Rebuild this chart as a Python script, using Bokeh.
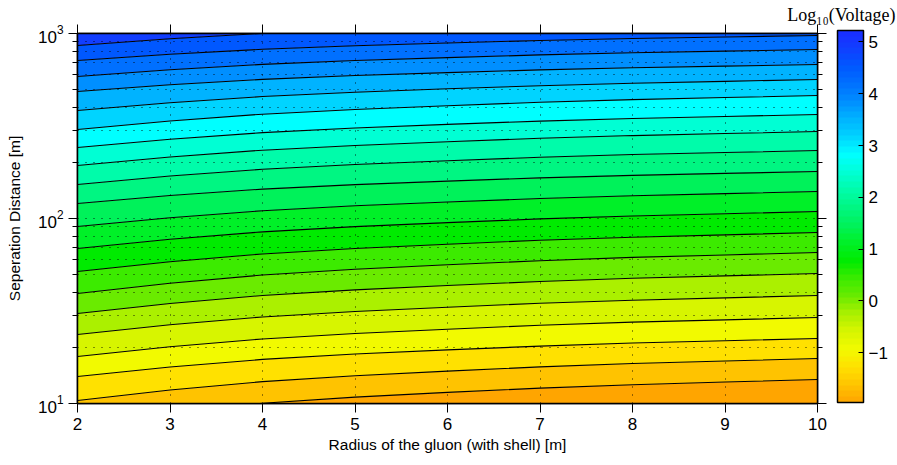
import numpy as np
from bokeh.plotting import figure
from bokeh.models import (Range1d, FixedTicker, LinearAxis, LogAxis, ColorBar,
                          LinearColorMapper, LogTickFormatter)
from bokeh.embed import file_html
from bokeh.resources import INLINE

# ---------------- data ----------------
radius = [2, 3, 4, 5, 6, 7, 8, 9, 10]            # x grid of the contour lines [m]
x_ticks = [2, 3, 4, 5, 6, 7, 8, 9, 10]
y_ticks = [10, 100, 1000]
y_minor = [20, 30, 40, 50, 60, 70, 80, 90, 200, 300, 400, 500, 600, 700, 800, 900]
cbar_ticks = [-1, 0, 1, 2, 3, 4, 5]
cbar_labels = {-1: "\u22121", 0: "0", 1: "1", 2: "2", 3: "3", 4: "4", 5: "5"}
z_min, z_max = -1.96, 5.22                        # Log10(Voltage) colour range

# contour levels, Log10(Voltage)
levels = [-1.62, -1.28, -0.93, -0.59, -0.25, 0.09, 0.43, 0.77, 1.12, 1.46,
          1.80, 2.14, 2.48, 2.82, 3.17, 3.51, 3.85, 4.19, 4.53, 4.88]

# separation distance [m] of each contour line at radius = 2..10
c00 = [7.89, 9.02, 10.04, 10.83, 11.48, 12.11, 12.64, 13.06, 13.48]
c01 = [10.38, 11.83, 13.13, 14.13, 14.97, 15.77, 16.44, 16.97, 17.51]
c02 = [14.0, 15.75, 17.31, 18.5, 19.49, 20.43, 21.22, 21.83, 22.46]
c03 = [17.95, 20.27, 22.33, 23.9, 25.21, 26.47, 27.52, 28.33, 29.17]
c04 = [23.6, 26.65, 29.37, 31.43, 33.15, 34.8, 36.18, 37.25, 38.35]
c05 = [30.66, 34.72, 38.35, 41.12, 43.43, 45.65, 47.51, 48.95, 50.43]
c06 = [39.32, 44.67, 49.47, 53.13, 56.2, 59.14, 61.61, 63.52, 65.5]
c07 = [51.7, 58.37, 64.33, 68.85, 72.62, 76.24, 79.26, 81.6, 84.01]
c08 = [68.84, 77.24, 84.69, 90.33, 95.03, 99.5, 103.2, 106.1, 109.1]
c09 = [90.52, 100.9, 110.1, 117.1, 122.8, 128.3, 132.8, 136.3, 140.0]
c10 = [120.5, 133.1, 144.2, 152.5, 159.3, 165.8, 171.1, 175.3, 179.5]
c11 = [152.7, 169.7, 184.7, 196.0, 205.3, 214.2, 221.6, 227.3, 233.1]
c12 = [193.4, 215.0, 234.0, 248.3, 260.1, 271.3, 280.7, 287.9, 295.3]
c13 = [242.0, 268.2, 291.1, 308.3, 322.6, 336.1, 347.3, 356.0, 364.9]
c14 = [302.8, 336.5, 366.3, 388.6, 407.1, 424.7, 439.3, 450.7, 462.2]
c15 = [383.5, 422.4, 456.2, 481.6, 502.4, 522.2, 538.6, 551.2, 564.1]
c16 = [485.8, 528.4, 565.2, 592.4, 614.7, 635.7, 653.0, 666.3, 679.9]
c17 = [585.6, 636.9, 681.2, 714.0, 740.9, 766.2, 787.1, 803.1, 819.4]
c18 = [714.6, 772.4, 822.0, 858.6, 888.5, 916.6, 939.7, 957.4, 975.4]
c19 = [861.3, 936.7, 1001.9, 1050.1, 1089.7, 1126.9, 1157.6, 1181.2, 1205.3]
contour_lines = [c00, c01, c02, c03, c04, c05, c06, c07, c08, c09,
                 c10, c11, c12, c13, c14, c15, c16, c17, c18, c19]

# ---------------- colour map (style) ----------------
cmap_frac = [0.0, 0.047, 0.095, 0.144, 0.191, 0.239, 0.286, 0.333, 0.380, 0.429,
             0.476, 0.524, 0.571, 0.618, 0.666, 0.714, 0.763, 0.810, 0.857, 0.904,
             0.953, 1.0]
cmap_rgb = [(255, 165, 0), (255, 195, 0), (255, 225, 0), (242, 250, 0), (215, 245, 0),
            (170, 240, 0), (105, 235, 0), (60, 235, 0), (0, 235, 0), (0, 240, 40),
            (0, 242, 90), (0, 246, 130), (0, 252, 170), (0, 255, 212), (0, 255, 255),
            (0, 212, 255), (0, 178, 255), (0, 142, 255), (0, 112, 255), (0, 88, 255),
            (18, 62, 255), (25, 45, 255)]


def cmap(v):
    f = (v - z_min) / (z_max - z_min)
    r = np.interp(f, cmap_frac, [c[0] for c in cmap_rgb])
    g = np.interp(f, cmap_frac, [c[1] for c in cmap_rgb])
    b = np.interp(f, cmap_frac, [c[2] for c in cmap_rgb])
    return "#%02x%02x%02x" % (int(round(r)), int(round(g)), int(round(b)))


palette = [cmap(z_min + (i + 0.5) * (z_max - z_min) / 64) for i in range(64)]
band_colors = [cmap(z_min)] + [cmap(v) for v in levels]

FONT = "Liberation Sans"
SERIF = "Liberation Serif"

p = figure(width=897, height=465, x_range=Range1d(2, 10), y_range=Range1d(10, 1000),
           y_axis_type="log", output_backend="svg", toolbar_location=None,
           min_border_left=77, min_border_right=80, min_border_top=33, min_border_bottom=62,
           background_fill_color="white", border_fill_color="white")
p.outline_line_color = "black"
p.outline_line_width = 1.5

# colour-bar title as the figure title, pushed to the right edge
p.title.text = "Log\u2081\u2080(Voltage)"
p.title.align = "right"
p.title.text_font = SERIF
p.title.text_font_size = "18px"
p.title.text_font_style = "normal"
p.title.text_color = "black"
p.title.standoff = 0
p.title.offset = -78

# filled bands between consecutive contour lines
floor = [p.y_range.start / 10.0] * len(radius)
ceil = [p.y_range.end * 10.0] * len(radius)
bounds = [floor] + contour_lines + [ceil]
for k in range(len(bounds) - 1):
    p.varea(x=radius, y1=bounds[k], y2=bounds[k + 1], fill_color=band_colors[k])

# contour lines
p.multi_line(xs=[radius] * len(contour_lines), ys=contour_lines,
             line_color="black", line_width=1.1)

# axes
xt = FixedTicker(ticks=x_ticks, minor_ticks=[])
yt = FixedTicker(ticks=y_ticks, minor_ticks=y_minor)


def style_axis(ax, labels=True):
    ax.axis_line_color = "black"
    ax.axis_line_width = 1.5
    ax.major_tick_line_color = "black"
    ax.minor_tick_line_color = "black"
    ax.major_tick_out = 9
    ax.major_tick_in = 0
    ax.minor_tick_out = 5
    ax.minor_tick_in = 0
    ax.major_label_text_font = FONT
    ax.major_label_text_color = "black"
    ax.axis_label_text_color = "black"
    if labels:
        ax.major_label_text_font_size = "17px"
    else:
        ax.major_label_text_font_size = "1px"
        ax.major_label_text_alpha = 0
        ax.major_label_standoff = 0


xa = p.xaxis[0]
xa.ticker = xt
style_axis(xa)
xa.axis_label = "Radius of the gluon (with shell) [m]"
xa.axis_label_text_font = FONT
xa.axis_label_text_font_size = "15.5px"
xa.axis_label_text_font_style = "normal"
xa.axis_label_standoff = 3
xa.major_label_standoff = 5

ya = p.yaxis[0]
ya.ticker = yt
ya.formatter = LogTickFormatter()
style_axis(ya)
ya.axis_label = "Seperation Distance [m]"
ya.axis_label_text_font = FONT
ya.axis_label_text_font_size = "15.5px"
ya.axis_label_text_font_style = "normal"
ya.axis_label_standoff = 12
ya.major_label_standoff = 5

top_ax = LinearAxis(ticker=FixedTicker(ticks=x_ticks, minor_ticks=[]))
style_axis(top_ax, labels=False)
p.add_layout(top_ax, "above")
right_ax = LogAxis(ticker=FixedTicker(ticks=y_ticks, minor_ticks=y_minor))
style_axis(right_ax, labels=False)
p.add_layout(right_ax, "right")

# dotted grid drawn above the filled contours
for g in (p.xgrid, p.ygrid):
    g.grid_line_color = "black"
    g.grid_line_dash = "1 7"
    g.grid_line_alpha = 0.85
    g.grid_line_width = 1
    g.level = "overlay"
p.ygrid.minor_grid_line_color = "black"
p.ygrid.minor_grid_line_dash = "1 7"
p.ygrid.minor_grid_line_alpha = 0.85

# colour bar
mapper = LinearColorMapper(palette=palette, low=z_min, high=z_max)
cb = ColorBar(color_mapper=mapper, location=(760, 1), orientation="vertical",
              width=26, height=372, padding=0, margin=0,
              ticker=FixedTicker(ticks=cbar_ticks), major_label_overrides=cbar_labels,
              major_tick_in=5, major_tick_out=0, major_tick_line_color="black",
              minor_tick_line_color=None, bar_line_color="black", bar_line_width=1.5,
              label_standoff=5, major_label_text_font=FONT,
              major_label_text_font_size="17px", major_label_text_color="black",
              background_fill_alpha=0, border_line_color=None)
p.add_layout(cb)

open("out.html", "w").write(file_html(p, INLINE))
